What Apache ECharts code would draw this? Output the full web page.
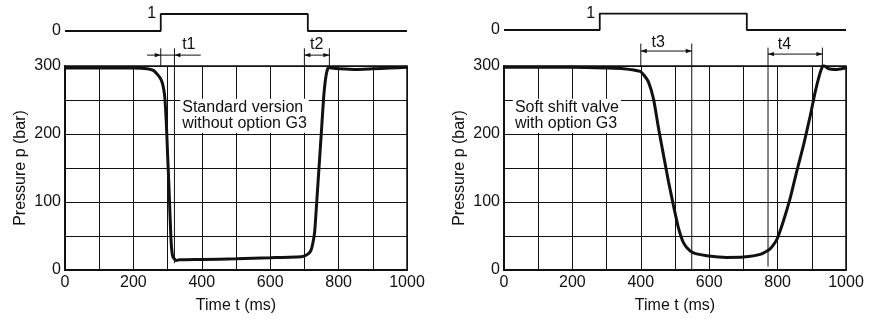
<!DOCTYPE html>
<html>
<head>
<meta charset="utf-8">
<script src="https://cdn.jsdelivr.net/npm/echarts@6/dist/echarts.min.js"></script>
<style>
html,body{margin:0;padding:0;background:#fff;}
#chart{width:879px;height:319px;}
</style>
</head>
<body>
<div id="chart"></div>
<script>
// ---- data ----
const xTickLabels = [0, 200, 400, 600, 800, 1000];
const yTickLabels = [0, 100, 200, 300];

// Standard version without option G3 (left panel)
const stdTime     = [0, 100, 200, 240, 260, 281, 291, 296, 300, 304, 310, 315, 325, 335, 400, 500, 600, 695, 712, 720, 725, 730, 735, 740, 749, 757, 764, 771, 780, 803, 851, 900, 950, 1000];
const stdPressure = [297, 297, 297, 296, 293, 280, 258, 219, 170, 122, 44, 20, 14, 15, 15.5, 16.5, 18, 20, 24, 30, 40, 56, 92, 130, 198, 258, 288, 298, 297, 296, 295, 296, 297, 298];

// Soft shift valve with option G3 (right panel)
const softTime     = [0, 100, 200, 300, 350, 398, 410, 422, 437, 452, 466, 481, 495, 510, 525, 544, 560, 593, 650, 700, 749, 778, 798, 817, 837, 856, 876, 896, 910, 925, 934, 949, 974, 1000];
const softPressure = [298, 298, 298, 297, 296, 292, 286, 277, 252, 208, 170, 130, 96, 62, 40, 28, 24, 21, 18.5, 19, 23, 31, 45, 72, 106, 145, 184, 228, 262, 291, 301, 296, 295, 297];

// Switching signal (same for both panels)
const signalTime  = [0, 280, 280, 710, 710, 1000];
const signalLevel = [0, 0, 1, 1, 0, 0];

// Dimension annotations t1..t4 (time in ms, levels in bar units above the plot)
const dimNames       = ['t1', 't2', 't3', 't4'];
const dimPanel       = [0, 0, 1, 1];
const dimStart       = [280, 700, 400, 772];
const dimEnd         = [320, 773, 549, 931];
const dimLevel       = [316, 316, 322, 317.5];
const dimExtTop      = [326, 326, 333, 327];
const dimStartBottom = [300, 300, 300, 5];
const dimEndBottom   = [10, 300, 0, 300];
const dimLabelX      = [362, 736, 451, 820];
const dimLabelY      = [332, 332, 335, 332];
const dimOuterLeft   = [240, -1, -1, -1];
const dimOuterRight  = [397, -1, -1, -1];

// Text notes
const noteText  = ['Standard version\nwithout option G3', 'Soft shift valve\nwith option G3'];
const noteTime  = [337, 26];
const notePress = [252, 252];

// ---- chart ----
const FONT = '"Liberation Sans", Arial, Helvetica, sans-serif';
const INK = '#111';
const zip = (a, b) => a.map((v, i) => [v, b[i]]);

function pressureX(gi) {
  return {
    type: 'value', gridIndex: gi, min: 0, max: 1000, interval: 100,
    name: 'Time t (ms)', nameLocation: 'middle', nameGap: 28,
    nameTextStyle: { fontSize: 16, color: INK, fontFamily: FONT },
    axisLine: { show: true, lineStyle: { color: INK, width: 2 } },
    axisTick: { show: false },
    axisLabel: { fontSize: 16, color: INK, margin: 5, fontFamily: FONT,
      formatter: v => xTickLabels.includes(v) ? String(v) : '' },
    splitLine: { show: true, lineStyle: { color: INK, width: 1 } }
  };
}
function pressureY(gi) {
  return {
    type: 'value', gridIndex: gi, min: 0, max: 300, interval: 50,
    name: 'Pressure p (bar)', nameLocation: 'middle', nameGap: 36, nameRotate: 90,
    nameTextStyle: { fontSize: 16, color: INK, fontFamily: FONT },
    axisLine: { show: true, lineStyle: { color: INK, width: 2 } },
    axisTick: { show: false },
    axisLabel: { fontSize: 16, color: INK, margin: 4, fontFamily: FONT,
      formatter: v => yTickLabels.includes(v) ? String(v) : '' },
    splitLine: { show: true, lineStyle: { color: INK, width: 1 } }
  };
}
function signalX(gi) {
  return { type: 'value', gridIndex: gi, min: 0, max: 1000, show: false };
}
function signalY(gi) {
  return {
    type: 'value', gridIndex: gi, min: 0, max: 1, interval: 1,
    axisLine: { show: false }, axisTick: { show: false }, splitLine: { show: false },
    axisLabel: { fontSize: 16, color: INK, margin: 4, fontFamily: FONT,
      formatter: v => v === 0 ? '0' : '' }
  };
}

function renderDim(params, api) {
  const s = api.value(0), lvl = api.value(1), e = api.value(2);
  const top = api.value(3), sb = api.value(4), eb = api.value(5);
  const lx = api.value(6), ly = api.value(7);
  const ol = api.value(8), or = api.value(9), idx = api.value(10);
  const lineStyle = { stroke: INK, lineWidth: 1 };
  const ps = api.coord([s, lvl]), pe = api.coord([e, lvl]);
  const st = api.coord([s, top]), sbt = api.coord([s, sb]);
  const et = api.coord([e, top]), ebt = api.coord([e, eb]);
  const L = 6, W = 2.2;
  const arrow = (x, y, d) => ({ type: 'polygon',
    shape: { points: [[x, y], [x - d * L, y - W], [x - d * L, y + W]] },
    style: { fill: INK } });
  const children = [
    { type: 'line', shape: { x1: st[0], y1: st[1], x2: sbt[0], y2: sbt[1] }, style: lineStyle },
    { type: 'line', shape: { x1: et[0], y1: et[1], x2: ebt[0], y2: ebt[1] }, style: lineStyle }
  ];
  if (ol >= 0) {
    const a = api.coord([ol, lvl]), b = api.coord([or, lvl]);
    children.push({ type: 'line', shape: { x1: a[0], y1: a[1], x2: b[0], y2: b[1] }, style: lineStyle });
    children.push(arrow(ps[0], ps[1], 1));
    children.push(arrow(pe[0], pe[1], -1));
  } else {
    children.push({ type: 'line', shape: { x1: ps[0], y1: ps[1], x2: pe[0], y2: pe[1] }, style: lineStyle });
    children.push(arrow(ps[0], ps[1], -1));
    children.push(arrow(pe[0], pe[1], 1));
  }
  const lp = api.coord([lx, ly]);
  children.push({ type: 'text', style: { text: dimNames[idx], x: lp[0], y: lp[1],
    align: 'center', verticalAlign: 'middle', font: '16px "Liberation Sans", Arial, sans-serif', fill: INK } });
  return { type: 'group', children };
}

function renderNote(params, api) {
  const p = api.coord([api.value(0), api.value(1)]);
  const idx = api.value(2);
  return { type: 'text', style: { text: noteText[idx], x: p[0], y: p[1],
    align: 'left', verticalAlign: 'top', fontSize: 16, lineHeight: 16, fontFamily: FONT,
    fill: INK, backgroundColor: '#fff', padding: [1, 2, 1, 2] } };
}

function dimData(panel) {
  const out = [];
  dimNames.forEach((n, i) => {
    if (dimPanel[i] !== panel) return;
    out.push([dimStart[i], dimLevel[i], dimEnd[i], dimExtTop[i], dimStartBottom[i], dimEndBottom[i],
      dimLabelX[i], dimLabelY[i], dimOuterLeft[i], dimOuterRight[i], i]);
  });
  return out;
}

const option = {
  animation: false,
  backgroundColor: '#fff',
  textStyle: { fontFamily: FONT },
  grid: [
    { left: 65, top: 66, width: 342, height: 206, show: true, borderColor: INK, borderWidth: 1.5, backgroundColor: 'transparent' },
    { left: 504, top: 66, width: 342, height: 205, show: true, borderColor: INK, borderWidth: 1.5, backgroundColor: 'transparent' },
    { left: 65, top: 14, width: 342, height: 17 },
    { left: 504, top: 13.5, width: 342, height: 16.5 }
  ],
  xAxis: [pressureX(0), pressureX(1), signalX(2), signalX(3)],
  yAxis: [pressureY(0), pressureY(1), signalY(2), signalY(3)],
  series: [
    { type: 'line', xAxisIndex: 0, yAxisIndex: 0, data: zip(stdTime, stdPressure),
      symbol: 'none', smooth: 0.2, lineStyle: { color: INK, width: 3 }, z: 5 },
    { type: 'line', xAxisIndex: 1, yAxisIndex: 1, data: zip(softTime, softPressure),
      symbol: 'none', smooth: 0.2, lineStyle: { color: INK, width: 3 }, z: 5 },
    { type: 'line', xAxisIndex: 2, yAxisIndex: 2, data: zip(signalTime, signalLevel),
      symbol: 'none', lineStyle: { color: INK, width: 1.8 },
      markPoint: { symbol: 'circle', symbolSize: 1, itemStyle: { color: 'transparent' },
        label: { show: true, position: 'left', distance: 4, formatter: '1', fontSize: 16, color: INK, fontFamily: FONT },
        data: [{ coord: [signalTime[2], signalLevel[2]] }] } },
    { type: 'line', xAxisIndex: 3, yAxisIndex: 3, data: zip(signalTime, signalLevel),
      symbol: 'none', lineStyle: { color: INK, width: 1.8 },
      markPoint: { symbol: 'circle', symbolSize: 1, itemStyle: { color: 'transparent' },
        label: { show: true, position: 'left', distance: 4, formatter: '1', fontSize: 16, color: INK, fontFamily: FONT },
        data: [{ coord: [signalTime[2], signalLevel[2]] }] } },
    { type: 'custom', xAxisIndex: 0, yAxisIndex: 0, clip: false, renderItem: renderDim, data: dimData(0), z: 6 },
    { type: 'custom', xAxisIndex: 1, yAxisIndex: 1, clip: false, renderItem: renderDim, data: dimData(1), z: 6 },
    { type: 'custom', xAxisIndex: 0, yAxisIndex: 0, clip: false, renderItem: renderNote, data: [[noteTime[0], notePress[0], 0]], z: 4 },
    { type: 'custom', xAxisIndex: 1, yAxisIndex: 1, clip: false, renderItem: renderNote, data: [[noteTime[1], notePress[1], 1]], z: 4 }
  ]
};

const chart = echarts.init(document.getElementById('chart'), null, { renderer: 'canvas' });
chart.setOption(option);
</script>
</body>
</html>
